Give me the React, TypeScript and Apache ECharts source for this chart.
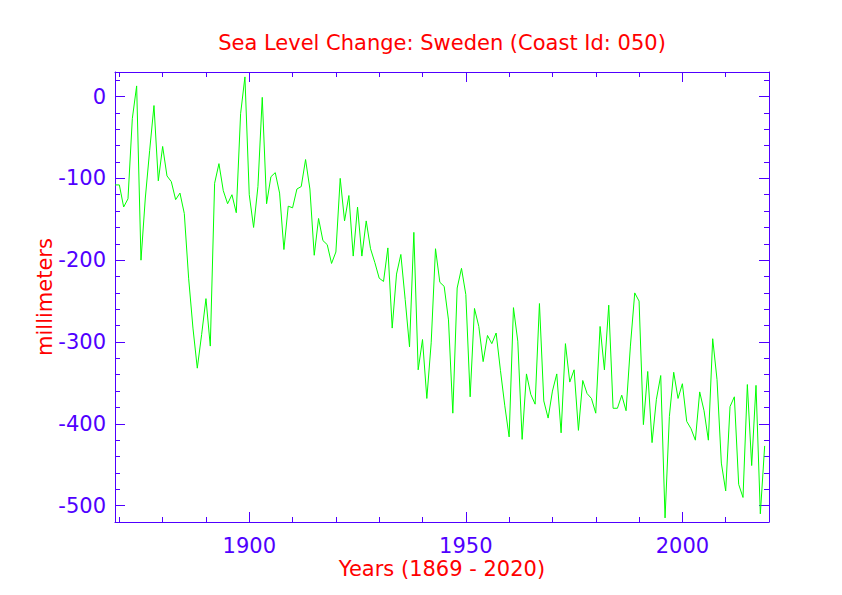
import React, { useEffect, useRef } from "react";
import * as echarts from "echarts";

const startYear = 1869;
const seaLevel: number[] = [
  -108, -108, -135, -125, -27, 13, -200, -124, -66, -11,
  -103, -61, -97, -104, -126, -118, -143, -222, -283, -332,
  -291, -247, -305, -106, -82, -115, -131, -120, -142, -21,
  24, -120, -160, -110, -1, -131, -98, -93, -118, -187,
  -134, -136, -113, -110, -77, -113, -194, -149, -176, -181,
  -204, -190, -100, -152, -121, -195, -135, -195, -152, -186,
  -203, -222, -226, -185, -283, -217, -193, -248, -306, -166,
  -334, -297, -369, -301, -186, -227, -232, -273, -387, -234,
  -210, -242, -367, -259, -281, -324, -292, -302, -289, -335,
  -378, -416, -258, -299, -419, -339, -364, -376, -253, -372,
  -393, -360, -339, -411, -302, -349, -334, -408, -347, -363,
  -369, -387, -281, -334, -255, -381, -381, -365, -384, -305,
  -240, -250, -401, -336, -423, -370, -341, -515, -391, -337,
  -369, -351, -397, -406, -420, -361, -384, -420, -296, -346,
  -448, -482, -379, -367, -474, -490, -352, -451, -353, -510,
  -427,
];

const xMajorTicks = [1900, 1950, 2000];
const xMinorTicks = [1870, 1880, 1890, 1900, 1910, 1920, 1930, 1940, 1950, 1960, 1970, 1980, 1990, 2000, 2010, 2020];
const yMajorTicks = [-500, -400, -300, -200, -100, 0];
const yMinorTicks = [-520, -500, -480, -460, -440, -420, -400, -380, -360, -340, -320, -300, -280, -260, -240, -220, -200, -180, -160, -140, -120, -100, -80, -60, -40, -20, 0, 20];

const AXIS_COLOR = "#5000ff";
const RED = "#ff0000";
const FONT = "DejaVu Sans";
const FS = 21;

export default function App() {
  const ref = useRef<HTMLDivElement>(null);
  useEffect(() => {
    if (!ref.current) return;
    const chart = echarts.init(ref.current, undefined, { renderer: "svg" });
    const data = seaLevel.map((v, i) => [startYear + i, v]);

    const xBase = (position: "top" | "bottom", ticks: number[], len: number, showLine: boolean, labels: boolean, extra: any = {}) => ({
      type: "value",
      position,
      min: 1869,
      max: 2020,
      axisLine: { show: showLine, onZero: false, lineStyle: { color: AXIS_COLOR, width: 1 } },
      axisTick: { show: true, inside: true, length: len, customValues: ticks, lineStyle: { color: AXIS_COLOR, width: 1 } },
      axisLabel: labels
        ? { show: true, customValues: ticks, color: AXIS_COLOR, fontFamily: FONT, fontSize: FS, margin: 13, formatter: (v: number) => String(v) }
        : { show: false },
      splitLine: { show: false },
      ...extra,
    });
    const yBase = (position: "left" | "right", ticks: number[], len: number, showLine: boolean, labels: boolean, extra: any = {}) => ({
      type: "value",
      position,
      min: -520,
      max: 30,
      axisLine: { show: showLine, onZero: false, lineStyle: { color: AXIS_COLOR, width: 1 } },
      axisTick: { show: true, inside: true, length: len, customValues: ticks, lineStyle: { color: AXIS_COLOR, width: 1 } },
      axisLabel: labels
        ? { show: true, customValues: ticks, color: AXIS_COLOR, fontFamily: FONT, fontSize: FS, margin: 9, formatter: (v: number) => String(v) }
        : { show: false },
      splitLine: { show: false },
      ...extra,
    });

    chart.setOption({
      animation: false,
      backgroundColor: "#ffffff",
      graphic: [
        {
          type: "text",
          x: 442,
          y: 43,
          style: {
            text: "Sea Level Change: Sweden (Coast Id: 050)",
            fill: RED,
            font: `${FS}px "${FONT}"`,
            textAlign: "center",
            textVerticalAlign: "middle",
          },
        },
      ],
      grid: { left: 115, right: 73, top: 72, bottom: 73, containLabel: false },
      xAxis: [
        xBase("bottom", xMajorTicks, 10, true, true, {
          name: "Years (1869 - 2020)",
          nameLocation: "middle",
          nameGap: 36,
          nameMoveOverlap: false,
          nameTextStyle: { color: RED, fontFamily: FONT, fontSize: FS },
        }),
        xBase("bottom", xMinorTicks, 5, false, false),
        xBase("top", xMajorTicks, 10, true, false),
        xBase("top", xMinorTicks, 5, false, false),
      ],
      yAxis: [
        yBase("left", yMajorTicks, 10, true, true, {
          name: "millimeters",
          nameLocation: "middle",
          nameGap: 60,
          nameMoveOverlap: false,
          nameRotate: 90,
          nameTextStyle: { color: RED, fontFamily: FONT, fontSize: FS },
        }),
        yBase("left", yMinorTicks, 5, false, false),
        yBase("right", yMajorTicks, 10, true, false),
        yBase("right", yMinorTicks, 5, false, false),
      ],
      series: [
        {
          type: "line",
          xAxisIndex: 0,
          yAxisIndex: 0,
          data,
          showSymbol: false,
          symbol: "none",
          lineStyle: { color: "#00ff00", width: 1 },
        },
      ],
    });
    return () => chart.dispose();
  }, []);

  return (
    <div
      ref={ref}
      style={{ position: "fixed", left: 0, top: 0, width: 842, height: 595, background: "#fff" }}
    />
  );
}
